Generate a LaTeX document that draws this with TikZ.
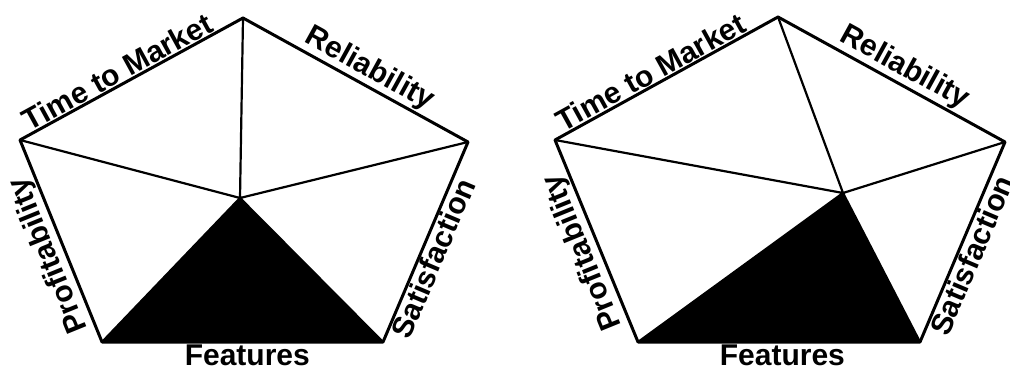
\documentclass[tikz,border=0pt]{standalone}
\usepackage{fontspec}
\setmainfont{Liberation Sans}
\usetikzlibrary{calc}
\begin{document}
\begin{tikzpicture}[x=0.5pt,y=-0.5pt,
  rim/.style={line width=1.5pt, line join=round, line cap=round},
  spoke/.style={line width=1.1pt, line cap=round},
  wedge/.style={fill=black},
  lbl/.style={font=\fontsize{15}{18}\selectfont\bfseries, inner sep=1pt}]
\useasboundingbox (0,0) rectangle (1010,368);
% ---- left pentagon ----
\coordinate (aT) at (243,18);
\coordinate (aL) at (20,140);
\coordinate (aR) at (468,142);
\coordinate (aBL) at (102,342);
\coordinate (aBR) at (383,342);
\coordinate (aC) at (240,198);
\fill[wedge] (aC) -- (aBL) -- (aBR) -- cycle;
\draw[spoke] (aC) -- (aT) (aC) -- (aL) (aC) -- (aR) (aC) -- (aBL) (aC) -- (aBR);
\draw[rim] (aT) -- (aR) -- (aBR) -- (aBL) -- (aL) -- cycle;
\node[lbl, anchor=south, rotate=28.7] (aTM) at ($(aL)!0.465!(aT)$) {Time to Market};
\node[lbl, anchor=south, rotate=-28.9] (aRel) at ($(aT)!0.527!(aR)$) {Reliability};
\node[lbl, anchor=south, rotate=112.1] (aPro) at ($(aL)!0.54!(aBL)$) {Profitability};
\node[lbl, anchor=north, rotate=67.0] (aSat) at ($(aBR)!0.445!(aR)$) {Satisfaction};
\node[lbl, anchor=north] (aFea) at ($(aBL)!0.517!(aBR)$) {Features};
% ---- right pentagon ----
\coordinate (bT) at (778,17);
\coordinate (bL) at (555,140);
\coordinate (bR) at (1005,142);
\coordinate (bBL) at (638,342);
\coordinate (bBR) at (920,342);
\coordinate (bC) at (843,193);
\fill[wedge] (bC) -- (bBL) -- (bBR) -- cycle;
\draw[spoke] (bC) -- (bT) (bC) -- (bL) (bC) -- (bR) (bC) -- (bBL) (bC) -- (bBR);
\draw[rim] (bT) -- (bR) -- (bBR) -- (bBL) -- (bL) -- cycle;
\node[lbl, anchor=south, rotate=28.9] (bTM) at ($(bL)!0.457!(bT)$) {Time to Market};
\node[lbl, anchor=south, rotate=-28.8] (bRel) at ($(bT)!0.522!(bR)$) {Reliability};
\node[lbl, anchor=south, rotate=112.1] (bPro) at ($(bL)!0.525!(bBL)$) {Profitability};
\node[lbl, anchor=north, rotate=67.0] (bSat) at ($(bBR)!0.46!(bR)$) {Satisfaction};
\node[lbl, anchor=north] (bFea) at ($(bBL)!0.512!(bBR)$) {Features};
\end{tikzpicture}
\end{document}
